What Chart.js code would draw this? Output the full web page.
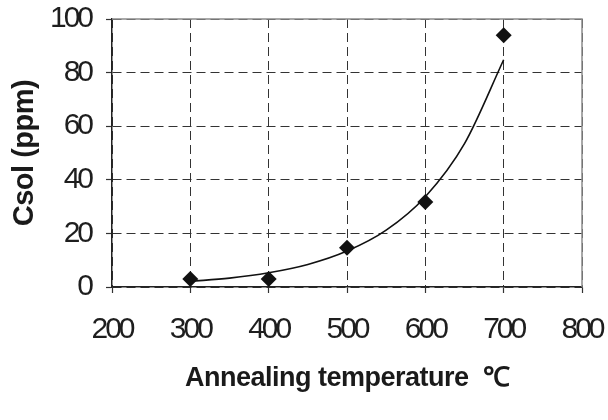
<!DOCTYPE html>
<html>
<head>
<meta charset="utf-8">
<script src="https://cdn.jsdelivr.net/npm/chart.js@4/dist/chart.umd.min.js"></script>
<style>
  html, body { margin: 0; padding: 0; background: #fff; }
  #wrap { width: 608px; height: 420px; }
</style>
</head>
<body>
<div id="wrap"><canvas id="csol"></canvas></div>
<script>
// measured solubility vs annealing temperature
var temps = [300, 400, 500, 600, 700];
var csol = [3.0, 3.0, 14.6, 31.7, 93.9];

// exponential trend line
var trendTemps = [300, 350, 400, 450, 500, 550, 600, 650, 700];
var trendCsol = [2.1, 3.3, 5.3, 8.4, 13.4, 21.2, 33.7, 53.5, 84.8];

var xTicks = [200, 300, 400, 500, 600, 700, 800];
var yTicks = [0, 20, 40, 60, 80, 100];

var xTitle = 'Annealing temperature  \u2103';
var yTitle = 'Csol (ppm)';

var FONT = 'Liberation Sans, Arial';

function pairs(xs, ys){
    return xs.map(function(x, i){ return {x: x, y: ys[i]}; });
}

// tight spacing for the tick numbers, normal spacing for the axis titles
var tightText = {
    id: 'tightText',
    beforeLayout: function(chart){ chart.ctx.letterSpacing = '-3px'; },
    beforeDraw: function(chart){
        chart.ctx.letterSpacing = '-3px';
        Object.keys(chart.scales).forEach(function(k){
            var s = chart.scales[k];
            if (s._titleWrapped) return;
            var orig = s.drawTitle;
            s.drawTitle = function(){
                var c = this.ctx, ls = c.letterSpacing;
                c.letterSpacing = '-0.5px';
                orig.apply(this, arguments);
                c.letterSpacing = ls;
            };
            s._titleWrapped = true;
        });
    }
};

// grey top and right edge of the plot box
var frame = {
    id: 'frame',
    beforeDatasetsDraw: function(chart){
        var a = chart.chartArea, ctx = chart.ctx;
        ctx.save();
        ctx.strokeStyle = '#8c8c8c';
        ctx.lineWidth = 1.5;
        ctx.setLineDash([]);
        ctx.beginPath();
        ctx.moveTo(a.left, a.top);
        ctx.lineTo(a.right, a.top);
        ctx.lineTo(a.right, a.bottom);
        ctx.stroke();
        ctx.restore();
    }
};

var ctx = document.getElementById('csol').getContext('2d');
var myChart = new Chart(ctx, {
    type: 'scatter',
    data: {
        datasets: [{
            label: 'trend',
            data: pairs(trendTemps, trendCsol),
            showLine: true,
            borderColor: '#111',
            borderWidth: 1.6,
            cubicInterpolationMode: 'monotone',
            pointRadius: 0,
            order: 2
        }, {
            label: 'Csol',
            data: pairs(temps, csol),
            pointStyle: 'rectRot',
            pointRadius: 8,
            pointBackgroundColor: '#111',
            pointBorderColor: '#111',
            pointBorderWidth: 0,
            order: 1
        }]
    },
    plugins: [tightText, frame],
    options: {
        responsive: true,
        maintainAspectRatio: false,
        animation: false,
        layout: { padding: { top: 19, right: 26, left: 0, bottom: 0 } },
        plugins: { legend: { display: false }, tooltip: { enabled: false } },
        scales: {
            x: {
                type: 'linear',
                min: 200, max: 800,
                afterBuildTicks: function(s){ s.ticks = xTicks.map(function(v){ return {value: v}; }); },
                afterFit: function(s){ s.height = 133; s.paddingLeft = 0; s.paddingRight = 0; },
                grid: { color: '#333', lineWidth: 1, tickColor: '#333', tickLength: 6, tickWidth: 1.2 },
                border: { color: '#222', width: 1.5, dash: [9, 5] },
                ticks: { color: '#1e1e1e', padding: 19, maxRotation: 0, font: { family: FONT, size: 30 } },
                title: {
                    display: true, text: xTitle, color: '#1a1a1a',
                    padding: { top: 4, bottom: 25 },
                    font: { family: FONT, size: 27, weight: 'bold' }
                }
            },
            y: {
                min: 0, max: 100,
                afterBuildTicks: function(s){ s.ticks = yTicks.map(function(v){ return {value: v}; }); },
                afterFit: function(s){ s.width = 112; s.paddingTop = 0; s.paddingBottom = 0; },
                grid: { color: '#333', lineWidth: 1, tickColor: '#333', tickLength: 6, tickWidth: 1.2 },
                border: { color: '#222', width: 1.5, dash: [9, 5] },
                ticks: { color: '#1e1e1e', padding: 15, font: { family: FONT, size: 30 } },
                title: {
                    display: true, text: yTitle, color: '#1a1a1a',
                    padding: { top: 8, bottom: 0 },
                    font: { family: FONT, size: 29, weight: 'bold' }
                }
            }
        }
    }
});
</script>
</body>
</html>
